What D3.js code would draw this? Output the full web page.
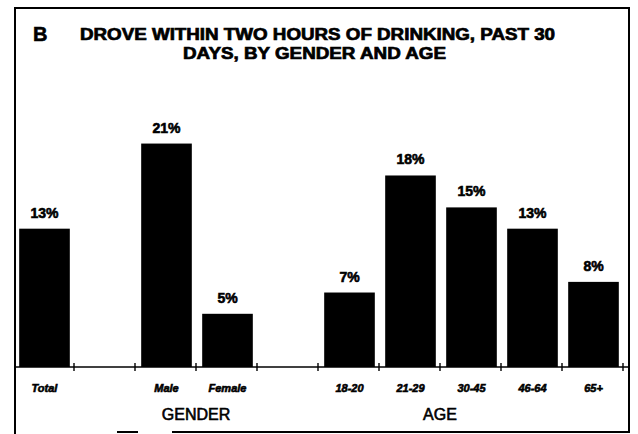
<!DOCTYPE html>
<meta charset="utf-8">

<!-- Load d3.js -->
<script src="https://d3js.org/d3.v7.min.js"></script>

<style>
  html, body { margin: 0; padding: 0; background: white; overflow: hidden; }
  svg { display: block; }
</style>

<div id="chart"></div>

<script>

// data
var categories = ["Total", "", "Male", "Female", " ", "18-20", "21-29", "30-45", "46-64", "65+"];
var values = [13, null, 21, 5, null, 7, 18, 15, 13, 8];
var groupLabels = ["GENDER", "AGE"];
var titleLines = ["DROVE WITHIN TWO HOURS OF DRINKING, PAST 30", "DAYS, BY GENDER AND AGE"];

var data = categories.map(function(c, i) { return {cat: c, v: values[i]}; });

var width = 638, height = 434;
var baseline = 367;
var font = "'Liberation Sans', Arial, sans-serif";

var svg = d3.select("#chart")
  .append("svg")
    .attr("width", width)
    .attr("height", height);

// frame
svg.append("rect")
  .attr("x", 15).attr("y", 8)
  .attr("width", 614).attr("height", 424)
  .style("fill", "none")
  .style("stroke", "black").style("stroke-width", 2);

// gaps in the bottom edge of the frame
svg.append("rect").attr("x", 10).attr("y", 430).attr("width", 107).attr("height", 4).style("fill", "white");
svg.append("rect").attr("x", 138).attr("y", 430).attr("width", 34).attr("height", 4).style("fill", "white");
svg.append("rect").attr("x", 14).attr("y", 420).attr("width", 2).attr("height", 14).style("fill", "black");

// title
svg.append("text")
  .attr("x", 33).attr("y", 41)
  .style("font-family", font)
  .style("font-size", "20px").style("font-weight", "bold")
  .style("stroke", "black").style("stroke-width", 0.6)
  .text("B");

svg.selectAll(".title")
  .data(titleLines)
  .enter()
  .append("text")
    .attr("class", "title")
    .attr("x", function(d, i) { return i == 0 ? 80 : 183 })
    .attr("y", function(d, i) { return i == 0 ? 40 : 59 })
    .attr("textLength", function(d, i) { return i == 0 ? 475 : 263 })
    .attr("lengthAdjust", "spacingAndGlyphs")
    .style("font-family", font)
    .style("font-size", "16px").style("font-weight", "bold")
    .style("stroke", "black").style("stroke-width", 0.7)
    .text(function(d) { return d });

// scales
var x = d3.scaleBand()
  .domain(categories)
  .range([13, 623])
  .padding(0);

var y = d3.scaleLinear()
  .domain([0, 25])
  .range([baseline, baseline - 266]);

var barW = x.bandwidth() * 0.83;

// baseline with ticks at slot boundaries
svg.append("line")
  .attr("x1", 15).attr("x2", 628)
  .attr("y1", baseline).attr("y2", baseline)
  .style("stroke", "black").style("stroke-width", 1.6);

svg.selectAll(".tick-mark")
  .data(categories)
  .enter()
  .append("line")
    .attr("class", "tick-mark")
    .attr("x1", function(d) { return x(d) + x.step() })
    .attr("x2", function(d) { return x(d) + x.step() })
    .attr("y1", baseline - 4).attr("y2", baseline + 4)
    .style("stroke", "black").style("stroke-width", 1.4);

// bars
var bars = data.filter(function(d) { return d.v != null; });

svg.selectAll(".bar")
  .data(bars)
  .enter()
  .append("rect")
    .attr("class", "bar")
    .attr("x", function(d) { return x(d.cat) + (x.bandwidth() - barW) / 2 + 1 })
    .attr("y", function(d) { return y(d.v) })
    .attr("width", barW)
    .attr("height", function(d) { return baseline - y(d.v) })
    .style("fill", "black");

// value labels
svg.selectAll(".val")
  .data(bars)
  .enter()
  .append("text")
    .attr("class", "val")
    .attr("x", function(d) { return x(d.cat) + x.bandwidth() / 2 + 1 })
    .attr("y", function(d) { return y(d.v) - 11 })
    .attr("text-anchor", "middle")
    .style("font-family", font)
    .style("font-size", "14px").style("font-weight", "bold")
    .style("stroke", "black").style("stroke-width", 0.6)
    .text(function(d) { return d.v + "%" });

// category labels
svg.selectAll(".cat")
  .data(bars)
  .enter()
  .append("text")
    .attr("class", "cat")
    .attr("x", function(d) { return x(d.cat) + x.bandwidth() / 2 + 1 })
    .attr("y", 392)
    .attr("text-anchor", "middle")
    .style("font-family", font)
    .style("font-size", "11px").style("font-weight", "bold").style("font-style", "italic")
    .style("stroke", "black").style("stroke-width", 0.6)
    .text(function(d) { return d.cat });

// group labels
svg.append("text")
  .attr("x", (x("Male") + x("Female") + x.bandwidth()) / 2)
  .attr("y", 420)
  .attr("text-anchor", "middle")
  .style("font-family", font)
  .style("font-size", "16px")
  .style("stroke", "black").style("stroke-width", 0.6)
  .text(groupLabels[0]);

svg.append("text")
  .attr("x", x("30-45"))
  .attr("y", 420)
  .attr("text-anchor", "middle")
  .style("font-family", font)
  .style("font-size", "16px")
  .style("stroke", "black").style("stroke-width", 0.6)
  .text(groupLabels[1]);

</script>
